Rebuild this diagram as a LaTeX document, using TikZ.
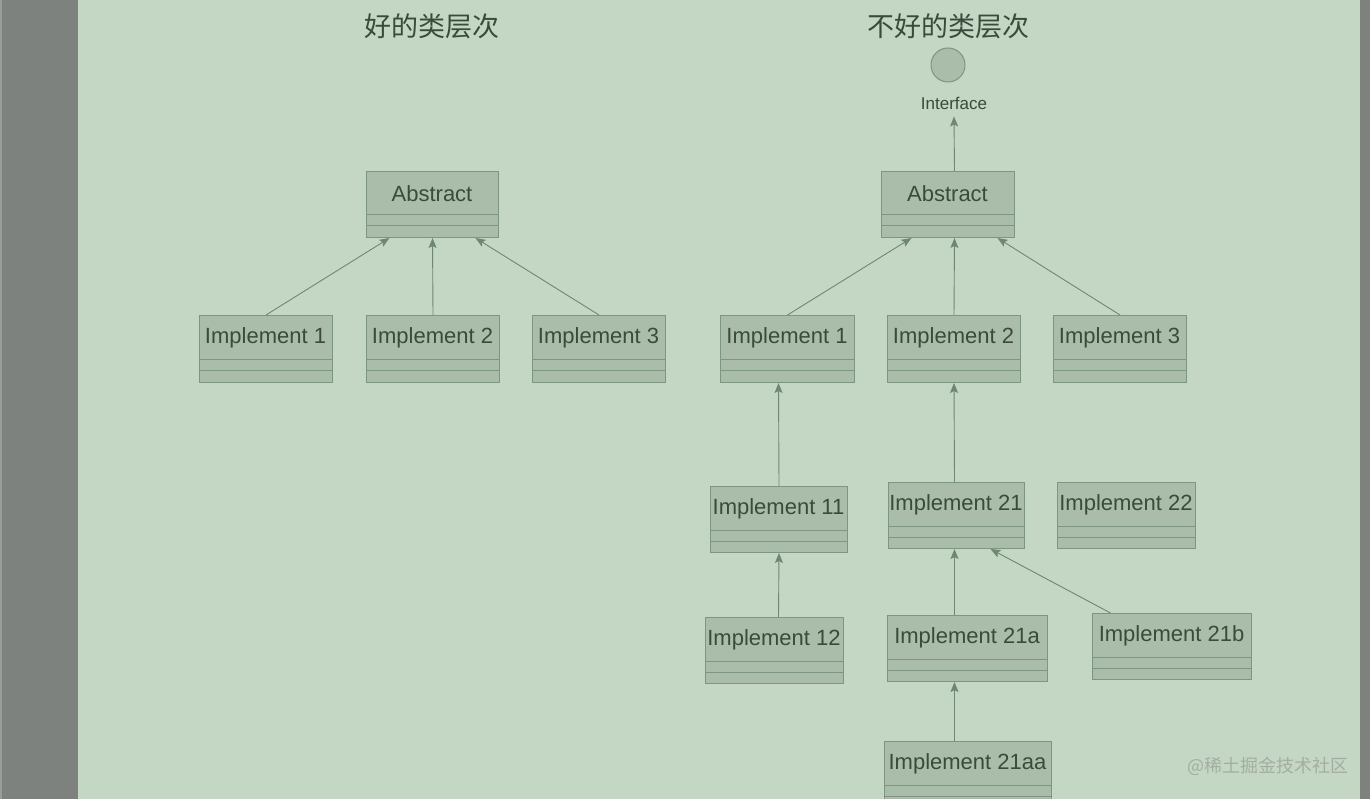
\documentclass[tikz,border=0pt]{standalone}
\usepackage{fontspec}
\setmainfont{Liberation Sans}
\newfontfamily\cjk{Noto Sans CJK SC}
\usetikzlibrary{arrows.meta,calc}
\definecolor{bgc}{HTML}{C3D7C4}
\definecolor{side}{HTML}{7E827E}
\definecolor{sidel}{HTML}{9A9E9A}
\definecolor{boxf}{HTML}{AABDAA}
\definecolor{boxd}{HTML}{7D967E}
\definecolor{txt}{HTML}{3A4A3B}
\definecolor{lnc}{HTML}{6E8870}
\definecolor{wm}{HTML}{A3AEA3}
\tikzset{
  x=1pt,y=-1pt,
  boxst/.style={draw=boxd,fill=boxf,line width=1pt,rectangle,inner sep=0pt,anchor=north west},
  lbl/.style={inner sep=0pt,text=txt,font=\fontsize{22}{25}\selectfont},
  arr/.style={draw=lnc,line width=0.9pt,-{Stealth[length=10pt,width=8pt,inset=2pt]}},
  ttl/.style={text=txt,font=\cjk\fontsize{27}{31}\selectfont,inner sep=0pt},
}
% name, left, top, right, bottom, text
\newcommand\clsbox[6]{%
  \node[boxst,minimum width={(#4)-(#2)},minimum height={(#5)-(#3)}] (#1) at (#2,#3) {};
  \node[lbl] (#1t) at ({((#2)+(#4))/2},{(#3)+23}) {#6};
  \draw[boxd,line width=1pt] (#2,{(#3)+44}) -- (#4,{(#3)+44});
  \draw[boxd,line width=1pt] (#2,{(#3)+55}) -- (#4,{(#3)+55});
}
\begin{document}
\begin{tikzpicture}
\useasboundingbox (0,0) rectangle (1370,799);
\fill[side] (0,0) rectangle (1370,799);
\fill[sidel] (0,0) rectangle (2,799);
\fill[bgc] (78,0) rectangle (1360,799);

% titles
\node[ttl] (t1) at (432,26) {好的类层次};
\node[ttl] (t2) at (948,26) {不好的类层次};

% left hierarchy
\clsbox{la}{366}{171}{498}{237}{Abstract}
\clsbox{l1}{199}{315}{332}{382}{Implement 1}
\clsbox{l2}{366}{315}{499}{382}{Implement 2}
\clsbox{l3}{532}{315}{665}{382}{Implement 3}
\draw[arr] (l1.north) -- ([xshift=-43pt]la.south);
\draw[arr] (l2.north) -- (la.south);
\draw[arr] (l3.north) -- ([xshift=43pt]la.south);

% right hierarchy
\node[circle,draw=boxd,fill=boxf,line width=1pt,minimum size=34pt,inner sep=0pt] (ic) at (948,65) {};
\node[inner sep=1pt,text=txt,font=\fontsize{17}{20}\selectfont] (il) at (954,103) {Interface};
\clsbox{ra}{881}{171}{1014}{237}{Abstract}
\clsbox{r1}{720}{315}{854}{382}{Implement 1}
\clsbox{r2}{887}{315}{1020}{382}{Implement 2}
\clsbox{r3}{1053}{315}{1186}{382}{Implement 3}
\clsbox{r11}{710}{486}{847}{552}{Implement 11}
\clsbox{r21}{888}{482}{1024}{548}{Implement 21}
\clsbox{r22}{1057}{482}{1195}{548}{Implement 22}
\clsbox{r12}{705}{617}{843}{683}{Implement 12}
\clsbox{r21a}{887}{615}{1047}{681}{Implement 21a}
\clsbox{r21b}{1092}{613}{1251}{679}{Implement 21b}
\clsbox{r21aa}{884}{741}{1051}{807}{Implement 21aa}

\draw[arr] ([xshift=6.5pt]ra.north) -- ([yshift=-6pt]il.south);
\draw[arr] (r1.north) -- ([xshift=-36.5pt]ra.south);
\draw[arr] (r2.north) -- ([xshift=6.5pt]ra.south);
\draw[arr] (r3.north) -- ([xshift=49.5pt]ra.south);
\draw[arr] (r11.north) -- ([xshift=-9pt]r1.south);
\draw[arr] ([xshift=4pt]r12.north) -- (r11.south);
\draw[arr] ([xshift=-2pt]r21.north) -- (r2.south);
\draw[arr] ([xshift=-13pt]r21a.north) -- ([xshift=-2pt]r21.south);
\draw[arr] ([xshift=-61.5pt]r21b.north) -- ([xshift=34pt]r21.south);
\draw[arr] ([xshift=-13.5pt]r21aa.north) -- ([xshift=-13pt]r21a.south);

% watermark
\node[inner sep=0pt,text=wm,font=\cjk\fontsize{18}{22}\selectfont] (wmk) at (1268,766) {@稀土掘金技术社区};
\end{tikzpicture}
\end{document}
